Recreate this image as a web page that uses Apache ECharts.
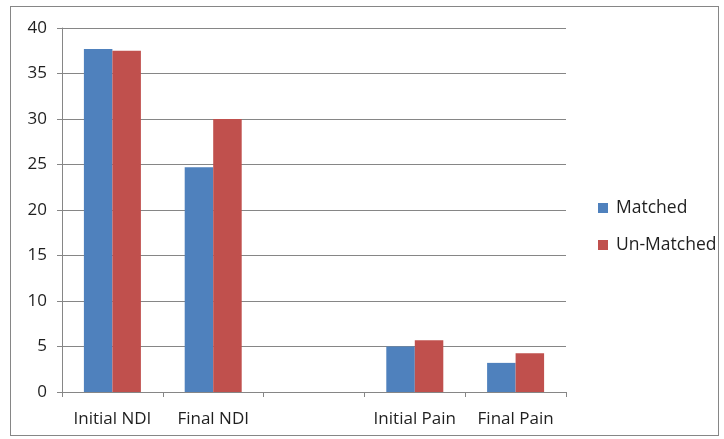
<!DOCTYPE html>
<html>
<head>
<meta charset="utf-8">
<script src="https://cdn.jsdelivr.net/npm/echarts@6/dist/echarts.min.js"></script>
<style>
  html, body { margin: 0; padding: 0; background: #fff; }
  #frame { position: absolute; left: 10px; top: 6px; width: 709px; height: 430px; border: 1px solid #868686; box-sizing: border-box; }
  #chart { position: absolute; left: 0; top: 0; width: 724px; height: 439px; }
</style>
</head>
<body>
<div id="frame"></div>
<div id="chart"></div>
<script>
// Outcome categories (the third slot is intentionally blank)
const categories = ['Initial NDI', 'Final NDI', '', 'Initial Pain', 'Final Pain'];
const matched = [37.7, 24.7, null, 5.0, 3.2];
const unMatched = [37.5, 30.0, null, 5.7, 4.25];
const yTicks = { min: 0, max: 40, interval: 5 };

const chart = echarts.init(document.getElementById('chart'), null, { renderer: 'canvas' });
const font = '"Open Sans", sans-serif';
const gridColor = '#868686';
const textColor = '#1f1f1f';

chart.setOption({
  animation: false,
  grid: { left: 62, right: 158, top: 28, bottom: 47, containLabel: false },
  legend: {
    orient: 'vertical',
    left: 598,
    top: 199,
    padding: 0,
    itemWidth: 10,
    itemHeight: 10,
    itemGap: 19,
    icon: 'rect',
    textStyle: { fontFamily: font, fontSize: 17.5, color: textColor, padding: [0, 0, 0, 3] },
    data: ['Matched', 'Un-Matched']
  },
  xAxis: {
    type: 'category',
    data: categories,
    axisLine: { lineStyle: { color: gridColor } },
    axisTick: { show: true, interval: 0, length: 5, lineStyle: { color: gridColor } },
    axisLabel: { interval: 0, hideOverlap: false, fontFamily: font, fontSize: 17, color: textColor, margin: 19 }
  },
  yAxis: {
    type: 'value',
    min: yTicks.min,
    max: yTicks.max,
    interval: yTicks.interval,
    axisLine: { show: true, lineStyle: { color: gridColor } },
    axisTick: { show: true, length: 5, lineStyle: { color: gridColor } },
    axisLabel: { fontFamily: font, fontSize: 17, color: textColor, margin: 15 },
    splitLine: { lineStyle: { color: gridColor } }
  },
  series: [
    {
      name: 'Matched',
      type: 'bar',
      data: matched,
      barWidth: 28.5,
      barGap: '0%',
      itemStyle: { color: '#4F81BD' }
    },
    {
      name: 'Un-Matched',
      type: 'bar',
      data: unMatched,
      barWidth: 28.5,
      barGap: '0%',
      itemStyle: { color: '#C0504D' }
    }
  ]
});
</script>
</body>
</html>
